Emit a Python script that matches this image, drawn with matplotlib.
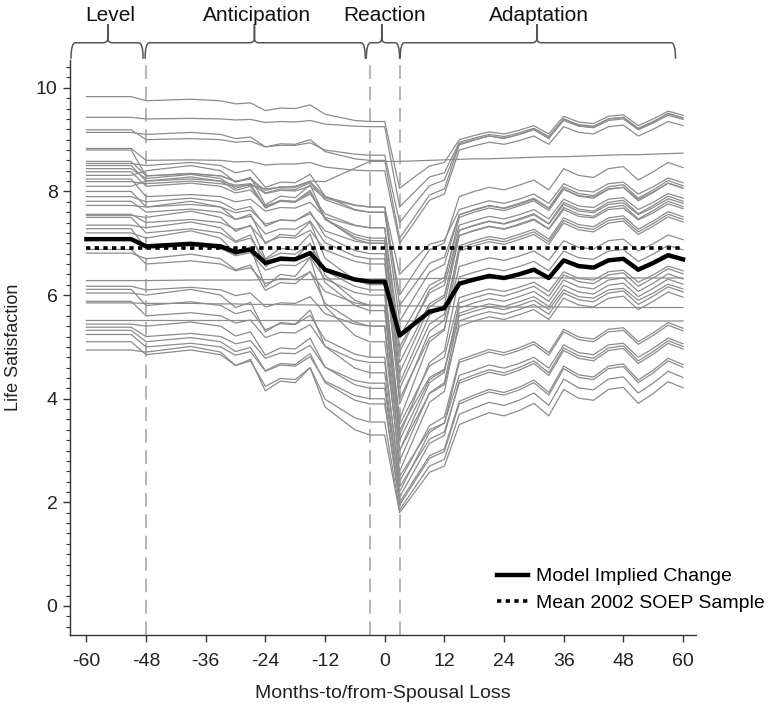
import matplotlib
matplotlib.use("Agg")
import matplotlib.pyplot as plt
from matplotlib.path import Path
from matplotlib.patches import PathPatch
from matplotlib.ticker import MultipleLocator

plt.rcParams["font.family"] = ["Liberation Sans", "DejaVu Sans"]
plt.rcParams["axes.unicode_minus"] = False

# months relative to the loss of the spouse
MONTHS = [-60, -51, -48, -39, -33, -30, -27, -24, -21, -18, -15, -12, -6, -3, 0,
          3, 6, 9, 12, 15, 18, 21, 24, 27, 30, 33, 36, 39, 42, 45, 48, 51, 54, 57, 60]

MODEL_CHANGE = [7.08, 7.08, 6.94, 6.99, 6.94, 6.83, 6.88, 6.62, 6.70, 6.69, 6.81, 6.49, 6.30, 6.26, 6.26,
                5.22, 5.45, 5.68, 5.75, 6.22, 6.30, 6.37, 6.33, 6.40, 6.49, 6.33, 6.67, 6.56, 6.53, 6.67,
                6.70, 6.49, 6.62, 6.77, 6.69]

SOEP_MEAN = 6.91

# individual trajectories (one row per person, same months as above)
INDIVIDUALS = [
    [9.83, 9.83, 9.75, 9.78, 9.75, 9.69, 9.71, 9.56, 9.61, 9.60, 9.67, 9.49, 9.37, 9.35, 9.35, 8.06, 8.28, 8.49, 8.56, 9.00, 9.08, 9.15, 9.11, 9.18, 9.27, 9.11, 9.45, 9.34, 9.31, 9.45, 9.48, 9.27, 9.40, 9.55, 9.47],
    [9.43, 9.43, 9.40, 9.41, 9.40, 9.38, 9.39, 9.33, 9.35, 9.34, 9.37, 9.30, 9.26, 9.25, 9.25, 7.70, 7.99, 8.28, 8.36, 8.95, 9.03, 9.10, 9.06, 9.13, 9.22, 9.06, 9.40, 9.29, 9.26, 9.40, 9.43, 9.22, 9.35, 9.50, 9.42],
    [9.19, 9.19, 9.00, 9.02, 9.00, 8.95, 8.97, 8.86, 8.89, 8.89, 8.94, 8.80, 8.72, 8.70, 8.70, 7.40, 7.76, 8.11, 8.22, 8.92, 9.00, 9.07, 9.03, 9.10, 9.19, 9.03, 9.37, 9.26, 9.23, 9.37, 9.40, 9.19, 9.32, 9.47, 9.39],
    [9.14, 9.14, 9.10, 9.14, 9.10, 9.02, 9.05, 8.86, 8.92, 8.91, 9.00, 8.77, 8.63, 8.60, 8.60, 7.10, 7.51, 7.93, 8.05, 8.90, 8.99, 9.07, 9.02, 9.10, 9.20, 9.02, 9.40, 9.27, 9.24, 9.40, 9.43, 9.20, 9.34, 9.51, 9.42],
    [8.83, 8.83, 8.60, 8.61, 8.60, 8.57, 8.58, 8.51, 8.53, 8.53, 8.56, 8.47, 8.41, 8.40, 8.40, 7.00, 7.41, 7.83, 7.95, 8.80, 8.88, 8.95, 8.91, 8.98, 9.07, 8.91, 9.25, 9.14, 9.11, 9.25, 9.28, 9.07, 9.20, 9.35, 9.27],
    [8.80, 8.80, 8.30, 8.35, 8.30, 8.19, 8.24, 7.97, 8.05, 8.04, 8.17, 7.84, 7.64, 7.60, 7.60, 6.00, 6.44, 6.87, 7.01, 7.90, 8.00, 8.08, 8.03, 8.12, 8.22, 8.03, 8.44, 8.31, 8.27, 8.44, 8.48, 8.22, 8.38, 8.56, 8.46],
    [8.58, 8.58, 8.30, 8.34, 8.30, 8.20, 8.25, 8.02, 8.09, 8.08, 8.19, 7.90, 7.74, 7.70, 7.70, 6.40, 6.69, 6.98, 7.06, 7.65, 7.74, 7.82, 7.77, 7.85, 7.95, 7.77, 8.15, 8.02, 7.99, 8.15, 8.18, 7.95, 8.09, 8.26, 8.17],
    [8.54, 8.54, 8.50, 8.56, 8.50, 8.36, 8.42, 8.08, 8.18, 8.17, 8.33, 7.91, 7.65, 7.60, 7.60, 5.50, 5.97, 6.44, 6.59, 7.55, 7.65, 7.73, 7.68, 7.77, 7.87, 7.68, 8.09, 7.96, 7.92, 8.09, 8.13, 7.87, 8.03, 8.21, 8.11],
    [8.50, 8.50, 8.20, 8.24, 8.20, 8.12, 8.15, 7.96, 8.02, 8.01, 8.10, 7.87, 7.73, 7.70, 7.70, 5.80, 6.20, 6.61, 6.73, 7.55, 7.64, 7.72, 7.67, 7.75, 7.85, 7.67, 8.05, 7.92, 7.89, 8.05, 8.08, 7.85, 7.99, 8.16, 8.07],
    [8.44, 8.44, 8.25, 8.33, 8.25, 8.06, 8.14, 7.69, 7.83, 7.81, 8.02, 7.46, 7.12, 7.05, 7.05, 4.90, 5.50, 6.10, 6.28, 7.50, 7.60, 7.68, 7.63, 7.72, 7.82, 7.63, 8.04, 7.91, 7.87, 8.04, 8.08, 7.82, 7.98, 8.16, 8.06],
    [8.38, 8.38, 8.10, 8.16, 8.10, 7.97, 8.03, 7.72, 7.82, 7.80, 7.95, 7.57, 7.35, 7.30, 7.30, 5.20, 5.69, 6.19, 6.34, 7.35, 7.44, 7.52, 7.47, 7.55, 7.65, 7.47, 7.85, 7.72, 7.69, 7.85, 7.88, 7.65, 7.79, 7.96, 7.87],
    [8.31, 8.31, 8.40, 8.50, 8.40, 8.18, 8.27, 7.74, 7.91, 7.88, 8.13, 7.48, 7.08, 7.00, 7.00, 4.50, 5.13, 5.77, 5.96, 7.25, 7.35, 7.43, 7.38, 7.47, 7.57, 7.38, 7.79, 7.66, 7.62, 7.79, 7.83, 7.57, 7.73, 7.91, 7.81],
    [8.24, 8.24, 7.90, 7.94, 7.90, 7.80, 7.85, 7.62, 7.69, 7.68, 7.79, 7.50, 7.34, 7.30, 7.30, 5.00, 5.52, 6.04, 6.19, 7.25, 7.34, 7.42, 7.37, 7.45, 7.55, 7.37, 7.75, 7.62, 7.59, 7.75, 7.78, 7.55, 7.69, 7.86, 7.77],
    [8.10, 8.10, 8.20, 8.28, 8.20, 8.02, 8.10, 7.68, 7.81, 7.79, 7.99, 7.47, 7.17, 7.10, 7.10, 4.30, 4.96, 5.61, 5.81, 7.15, 7.25, 7.33, 7.28, 7.37, 7.47, 7.28, 7.69, 7.56, 7.52, 7.69, 7.73, 7.47, 7.63, 7.81, 7.71],
    [8.00, 8.00, 7.70, 7.75, 7.70, 7.59, 7.64, 7.37, 7.45, 7.44, 7.57, 7.24, 7.04, 7.00, 7.00, 4.70, 5.26, 5.83, 6.00, 7.15, 7.24, 7.32, 7.27, 7.35, 7.45, 7.27, 7.65, 7.52, 7.49, 7.65, 7.68, 7.45, 7.59, 7.76, 7.67],
    [7.90, 7.90, 7.80, 7.87, 7.80, 7.64, 7.71, 7.33, 7.45, 7.43, 7.61, 7.14, 6.86, 6.80, 6.80, 3.90, 4.60, 5.30, 5.52, 6.95, 7.05, 7.13, 7.08, 7.17, 7.27, 7.08, 7.49, 7.36, 7.32, 7.49, 7.53, 7.27, 7.43, 7.61, 7.51],
    [7.81, 7.81, 7.60, 7.66, 7.60, 7.46, 7.52, 7.18, 7.28, 7.27, 7.43, 7.01, 6.75, 6.70, 6.70, 4.20, 4.82, 5.44, 5.63, 6.90, 7.00, 7.08, 7.03, 7.12, 7.22, 7.03, 7.44, 7.31, 7.27, 7.44, 7.48, 7.22, 7.38, 7.56, 7.46],
    [7.73, 7.73, 7.70, 7.81, 7.70, 7.46, 7.56, 6.99, 7.17, 7.14, 7.41, 6.71, 6.29, 6.20, 6.20, 3.60, 4.35, 5.10, 5.32, 6.85, 6.95, 7.03, 6.98, 7.07, 7.17, 6.98, 7.39, 7.26, 7.22, 7.39, 7.43, 7.17, 7.33, 7.51, 7.41],
    [7.56, 7.56, 7.40, 7.46, 7.40, 7.27, 7.33, 7.02, 7.12, 7.10, 7.25, 6.87, 6.65, 6.60, 6.60, 4.00, 4.59, 5.17, 5.35, 6.55, 6.64, 6.72, 6.67, 6.75, 6.85, 6.67, 7.05, 6.92, 6.89, 7.05, 7.08, 6.85, 6.99, 7.16, 7.07],
    [7.54, 7.54, 7.50, 7.62, 7.50, 7.23, 7.35, 6.70, 6.90, 6.87, 7.18, 6.38, 5.90, 5.80, 5.80, 3.30, 4.00, 4.70, 4.92, 6.35, 6.44, 6.52, 6.47, 6.55, 6.65, 6.47, 6.85, 6.72, 6.69, 6.85, 6.88, 6.65, 6.79, 6.96, 6.87],
    [7.50, 7.50, 7.20, 7.28, 7.20, 7.02, 7.10, 6.68, 6.81, 6.79, 6.99, 6.47, 6.17, 6.10, 6.10, 3.50, 4.06, 4.63, 4.80, 5.95, 6.04, 6.12, 6.07, 6.15, 6.25, 6.07, 6.45, 6.32, 6.29, 6.45, 6.48, 6.25, 6.39, 6.56, 6.47],
    [7.35, 7.35, 7.30, 7.41, 7.30, 7.04, 7.16, 6.55, 6.74, 6.71, 7.00, 6.24, 5.80, 5.70, 5.70, 3.00, 3.66, 4.31, 4.51, 5.85, 5.95, 6.03, 5.98, 6.07, 6.17, 5.98, 6.39, 6.26, 6.22, 6.39, 6.43, 6.17, 6.33, 6.51, 6.41],
    [7.28, 7.28, 6.90, 6.96, 6.90, 6.76, 6.82, 6.48, 6.58, 6.57, 6.73, 6.31, 6.05, 6.00, 6.00, 3.20, 3.79, 4.37, 4.55, 5.75, 5.85, 5.93, 5.88, 5.97, 6.07, 5.88, 6.29, 6.16, 6.12, 6.29, 6.33, 6.07, 6.23, 6.41, 6.31],
    [7.20, 7.20, 7.10, 7.24, 7.10, 6.78, 6.92, 6.16, 6.40, 6.36, 6.72, 5.78, 5.22, 5.10, 5.10, 2.80, 3.46, 4.11, 4.31, 5.65, 5.75, 5.83, 5.78, 5.87, 5.97, 5.78, 6.19, 6.06, 6.02, 6.19, 6.23, 5.97, 6.13, 6.31, 6.21],
    [6.88, 6.88, 6.60, 6.66, 6.60, 6.47, 6.53, 6.22, 6.32, 6.30, 6.45, 6.07, 5.85, 5.80, 5.80, 3.40, 3.91, 4.41, 4.57, 5.60, 5.69, 5.77, 5.72, 5.80, 5.90, 5.72, 6.10, 5.97, 5.94, 6.10, 6.13, 5.90, 6.04, 6.21, 6.12],
    [6.81, 6.81, 6.70, 6.79, 6.70, 6.49, 6.58, 6.09, 6.24, 6.22, 6.45, 5.84, 5.48, 5.40, 5.40, 2.60, 3.27, 3.93, 4.14, 5.50, 5.60, 5.68, 5.63, 5.72, 5.82, 5.63, 6.04, 5.91, 5.87, 6.04, 6.08, 5.82, 5.98, 6.16, 6.06],
    [6.17, 6.17, 6.10, 6.15, 6.10, 5.99, 6.04, 5.77, 5.85, 5.84, 5.97, 5.64, 5.44, 5.40, 5.40, 3.00, 3.55, 4.10, 4.27, 5.40, 5.50, 5.58, 5.53, 5.62, 5.72, 5.53, 5.94, 5.81, 5.77, 5.94, 5.98, 5.72, 5.88, 6.06, 5.96],
    [6.11, 6.11, 5.80, 5.87, 5.80, 5.64, 5.71, 5.33, 5.45, 5.43, 5.61, 5.14, 4.86, 4.80, 4.80, 2.40, 2.94, 3.48, 3.65, 4.75, 4.85, 4.95, 4.89, 4.98, 5.10, 4.89, 5.34, 5.19, 5.15, 5.34, 5.37, 5.10, 5.27, 5.47, 5.36],
    [6.04, 6.04, 6.00, 6.11, 6.00, 5.76, 5.86, 5.29, 5.47, 5.44, 5.71, 5.01, 4.59, 4.50, 4.50, 2.20, 2.78, 3.35, 3.53, 4.70, 4.80, 4.90, 4.84, 4.93, 5.05, 4.84, 5.29, 5.14, 5.10, 5.29, 5.32, 5.05, 5.22, 5.42, 5.31],
    [5.88, 5.88, 5.60, 5.66, 5.60, 5.46, 5.52, 5.18, 5.28, 5.27, 5.43, 5.01, 4.75, 4.70, 4.70, 2.50, 2.95, 3.40, 3.53, 4.45, 4.55, 4.65, 4.59, 4.68, 4.80, 4.59, 5.04, 4.89, 4.85, 5.04, 5.07, 4.80, 4.97, 5.17, 5.06],
    [5.44, 5.44, 5.40, 5.48, 5.40, 5.21, 5.29, 4.84, 4.98, 4.96, 5.17, 4.61, 4.27, 4.20, 4.20, 2.10, 2.62, 3.14, 3.29, 4.35, 4.46, 4.56, 4.50, 4.60, 4.73, 4.50, 4.98, 4.83, 4.78, 4.98, 5.02, 4.73, 4.91, 5.12, 5.01],
    [5.38, 5.38, 5.20, 5.26, 5.20, 5.06, 5.12, 4.78, 4.88, 4.87, 5.03, 4.61, 4.35, 4.30, 4.30, 2.30, 2.76, 3.22, 3.36, 4.30, 4.41, 4.51, 4.45, 4.55, 4.68, 4.45, 4.93, 4.78, 4.73, 4.93, 4.97, 4.68, 4.86, 5.07, 4.96],
    [5.32, 5.32, 5.10, 5.18, 5.10, 4.91, 4.99, 4.54, 4.68, 4.66, 4.87, 4.31, 3.97, 3.90, 3.90, 2.00, 2.45, 2.90, 3.03, 3.95, 4.07, 4.18, 4.12, 4.22, 4.36, 4.12, 4.63, 4.46, 4.42, 4.63, 4.67, 4.36, 4.55, 4.78, 4.66],
    [5.24, 5.24, 5.00, 5.07, 5.00, 4.84, 4.91, 4.53, 4.65, 4.63, 4.81, 4.34, 4.06, 4.00, 4.00, 1.95, 2.40, 2.85, 2.98, 3.90, 4.02, 4.13, 4.07, 4.17, 4.31, 4.07, 4.58, 4.41, 4.37, 4.58, 4.62, 4.31, 4.50, 4.73, 4.61],
    [5.10, 5.10, 4.85, 4.94, 4.85, 4.64, 4.73, 4.24, 4.39, 4.37, 4.60, 3.99, 3.63, 3.55, 3.55, 1.85, 2.28, 2.70, 2.83, 3.70, 3.82, 3.93, 3.87, 3.97, 4.11, 3.87, 4.38, 4.21, 4.17, 4.38, 4.42, 4.11, 4.30, 4.53, 4.41],
    [4.94, 4.94, 4.90, 5.01, 4.90, 4.64, 4.76, 4.15, 4.34, 4.31, 4.60, 3.84, 3.40, 3.30, 3.30, 1.80, 2.19, 2.58, 2.70, 3.50, 3.62, 3.73, 3.67, 3.77, 3.91, 3.67, 4.18, 4.01, 3.97, 4.18, 4.22, 3.91, 4.10, 4.33, 4.21],
    [8.19, 8.19, 8.15, 8.20, 8.15, 8.10, 8.12, 8.05, 8.08, 8.10, 8.20, 8.19, 8.45, 8.58, 8.58, 8.58, 8.59, 8.60, 8.61, 8.62, 8.63, 8.63, 8.64, 8.65, 8.66, 8.67, 8.67, 8.68, 8.69, 8.70, 8.71, 8.71, 8.72, 8.73, 8.74],
    [6.28, 6.28, 6.28, 6.29, 6.29, 6.29, 6.29, 6.30, 6.30, 6.30, 6.30, 6.31, 6.31, 6.31, 6.31, 6.31, 6.31, 6.32, 6.32, 6.32, 6.32, 6.32, 6.32, 6.32, 6.33, 6.33, 6.33, 6.33, 6.33, 6.33, 6.33, 6.33, 6.33, 6.33, 6.33],
    [5.85, 5.85, 5.84, 5.84, 5.83, 5.83, 5.82, 5.82, 5.82, 5.81, 5.81, 5.80, 5.80, 5.80, 5.80, 5.79, 5.79, 5.79, 5.78, 5.78, 5.78, 5.78, 5.77, 5.77, 5.77, 5.77, 5.77, 5.76, 5.76, 5.76, 5.76, 5.76, 5.76, 5.76, 5.76],
    [5.51, 5.51, 5.51, 5.51, 5.51, 5.51, 5.51, 5.51, 5.51, 5.51, 5.51, 5.50, 5.50, 5.50, 5.50, 5.50, 5.50, 5.50, 5.50, 5.50, 5.50, 5.50, 5.50, 5.50, 5.50, 5.50, 5.50, 5.50, 5.50, 5.50, 5.50, 5.50, 5.50, 5.50, 5.50],
]

PHASE_LABELS = ["Level", "Anticipation", "Reaction", "Adaptation"]
PHASE_BOUNDS = [-48, -3, 3]

# brace spans (x0, tip, x1) in months
BRACES = [(-63.1, -55.7, -48.6), (-48.2, -26.2, -3.9), (-3.7, -0.6, 3.0), (3.1, 30.6, 58.5)]


def draw_brace(ax, x0, xm, x1, y_end=10.56, y_mid=10.87, y_tip=11.23):
    rx, ry = 0.9, 0.09
    verts = [(x0, y_end), (x0, y_mid), (x0 + rx, y_mid),
             (xm - rx, y_mid), (xm, y_mid), (xm, y_mid + ry),
             (xm, y_tip), (xm, y_mid + ry), (xm, y_mid), (xm + rx, y_mid),
             (x1 - rx, y_mid), (x1, y_mid), (x1, y_end)]
    codes = [Path.MOVETO, Path.CURVE3, Path.CURVE3,
             Path.LINETO, Path.CURVE3, Path.CURVE3,
             Path.LINETO, Path.LINETO, Path.CURVE3, Path.CURVE3,
             Path.LINETO, Path.CURVE3, Path.CURVE3]
    patch = PathPatch(Path(verts, codes), fill=False, edgecolor="#555555",
                      lw=1.1, clip_on=False)
    ax.add_patch(patch)


fig = plt.figure(figsize=(7.84, 7.04), dpi=100)
ax = fig.add_axes([0.0893, 0.098, 0.799, 0.817])

for row in INDIVIDUALS:
    ax.plot(MONTHS, row, color="#8c8c8c", lw=0.9, zorder=2)

for xb in PHASE_BOUNDS:
    ax.axvline(xb, color="#a0a0a0", lw=1.1, dashes=(9, 5), zorder=1)

ax.plot([MONTHS[0], MONTHS[-1]], [SOEP_MEAN, SOEP_MEAN], color="black", lw=2.6,
        linestyle=(0, (1.2, 1.2)), zorder=4, label="Mean 2002 SOEP Sample")
ax.plot(MONTHS, MODEL_CHANGE, color="black", lw=3.2, zorder=5,
        solid_joinstyle="round", label="Model Implied Change")

ax.set_xlim(-63.3, 62.7)
ax.set_ylim(-0.56, 10.54)
ax.set_xticks(range(-60, 61, 12))
ax.set_yticks(range(0, 11, 2))
ax.yaxis.set_minor_locator(MultipleLocator(0.2))

for side in ("top", "right"):
    ax.spines[side].set_visible(False)
for side in ("left", "bottom"):
    ax.spines[side].set_color("#333333")
    ax.spines[side].set_linewidth(1.0)

ax.tick_params(axis="both", which="major", length=5, width=1.0, color="#333333",
               labelsize=14, labelcolor="#222222")
ax.tick_params(axis="x", which="major", pad=8)
ax.tick_params(axis="y", which="major", pad=4)
ax.tick_params(axis="y", which="minor", length=3, width=0.8, color="#333333")

ax.set_xlabel("Months-to/from-Spousal Loss", fontsize=14, color="#222222",
              labelpad=11)
ax.set_ylabel("Life Satisfaction", fontsize=13, color="#222222", labelpad=10)

for (x0, xm, x1), name in zip(BRACES, PHASE_LABELS):
    draw_brace(ax, x0, xm, x1)
    ax.text(xm + 0.5, 11.40, name, ha="center", va="center", fontsize=15,
            color="#111111", clip_on=False)

handles, labels = ax.get_legend_handles_labels()
leg = ax.legend(handles[::-1], labels[::-1], loc="lower right",
                bbox_to_anchor=(1.137, 0.01), frameon=False, handlelength=1.6,
                handletextpad=0.4, labelspacing=0.45,
                prop={"size": 14})

fig.savefig("out.png", dpi=100)
